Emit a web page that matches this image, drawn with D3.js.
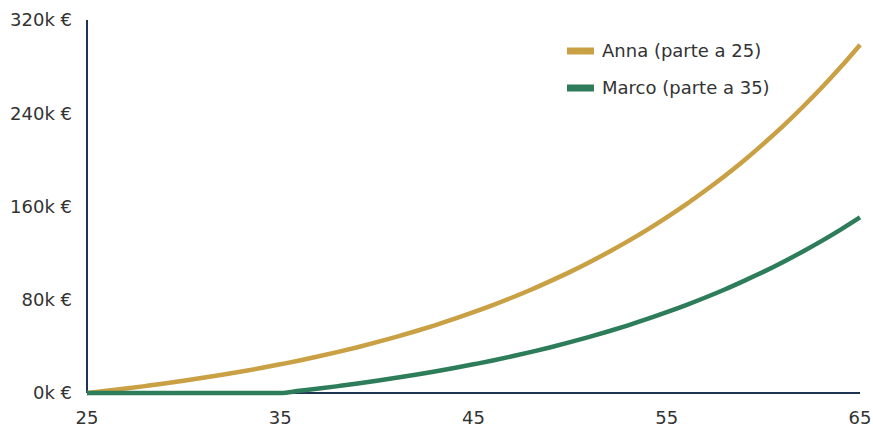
<!DOCTYPE html>
<html>
<head>
<meta charset="utf-8">
<script src="https://cdn.jsdelivr.net/npm/d3@7"></script>
<style>
  html, body { margin: 0; padding: 0; background: #fff; }
  svg { display: block; font-family: "DejaVu Sans", sans-serif; }
</style>
</head>
<body>
<svg id="chart" width="873" height="427"></svg>
<script>
// Ages on the x axis
const ages = d3.range(25, 66);

// Accumulated capital (thousands of euro) at each age
const annaValues = [0, 1.9, 3.8, 5.9, 8.1, 10.5, 13.0, 15.6, 18.4, 21.4,
  24.6, 27.9, 31.5, 35.3, 39.3, 43.6, 48.2, 53.0, 58.1, 63.5,
  69.3, 75.4, 81.9, 88.8, 96.2, 103.9, 112.2, 121.0, 130.3, 140.2,
  150.7, 161.8, 173.7, 186.2, 199.5, 213.7, 228.7, 244.7, 261.6, 279.6, 298.7];
const marcoValues = [0, 0, 0, 0, 0, 0, 0, 0, 0, 0,
  0, 1.9, 3.8, 5.9, 8.1, 10.5, 13.0, 15.6, 18.4, 21.4,
  24.6, 27.9, 31.5, 35.3, 39.3, 43.6, 48.2, 53.0, 58.1, 63.5,
  69.3, 75.4, 81.9, 88.8, 96.2, 103.9, 112.2, 121.0, 130.3, 140.2, 150.7];

const seriesNames = ["Anna (parte a 25)", "Marco (parte a 35)"];
const seriesColors = ["#c9a044", "#2e7d5a"];
const xTicks = [25, 35, 45, 55, 65];
const yTicks = [0, 80, 160, 240, 320];

const svg = d3.select("#chart");
const margin = { left: 87, right: 13, top: 20, bottom: 34 };
const W = 873, H = 427;
const fontSize = 18;

const x = d3.scaleLinear().domain([25, 65]).range([margin.left, W - margin.right]);
const y = d3.scaleLinear().domain([0, 320]).range([H - margin.bottom, margin.top]);

const textColor = "#333333";
const axisColor = "#1e3452";

// Y axis labels
svg.append("g").selectAll("text").data(yTicks).join("text")
  .attr("x", 72).attr("y", d => y(d)).attr("dy", "0.35em")
  .attr("text-anchor", "end").attr("font-size", fontSize).attr("fill", textColor)
  .text(d => d + "k €");

// X axis labels
svg.append("g").selectAll("text").data(xTicks).join("text")
  .attr("x", d => x(d)).attr("y", H - margin.bottom + 25).attr("dy", "0.35em")
  .attr("text-anchor", "middle").attr("font-size", fontSize).attr("fill", textColor)
  .text(d => d);

// Axis lines
svg.append("line")
  .attr("x1", x(25)).attr("x2", x(25)).attr("y1", y(320)).attr("y2", y(0))
  .attr("stroke", axisColor).attr("stroke-width", 2);
svg.append("line")
  .attr("x1", x(25)).attr("x2", x(65)).attr("y1", y(0)).attr("y2", y(0))
  .attr("stroke", axisColor).attr("stroke-width", 2);

// Growth curves
const line = d3.line()
  .x((d, i) => x(ages[i]))
  .y(d => y(d))
  .curve(d3.curveMonotoneX);

[annaValues, marcoValues].forEach((vals, i) => {
  svg.append("path")
    .datum(vals)
    .attr("d", line)
    .attr("fill", "none")
    .attr("stroke", seriesColors[i])
    .attr("stroke-width", 4.5)
    .attr("stroke-linejoin", "round");
});

// Legend
const legend = svg.append("g").attr("transform", "translate(567,51)");
seriesNames.forEach((name, i) => {
  const g = legend.append("g").attr("transform", `translate(0,${i * 37})`);
  g.append("rect").attr("x", 0).attr("y", -3.5).attr("width", 27).attr("height", 7)
    .attr("fill", seriesColors[i]);
  g.append("text").attr("x", 35).attr("y", 0).attr("dy", "0.35em")
    .attr("font-size", fontSize).attr("fill", textColor).text(name);
});
</script>
</body>
</html>
